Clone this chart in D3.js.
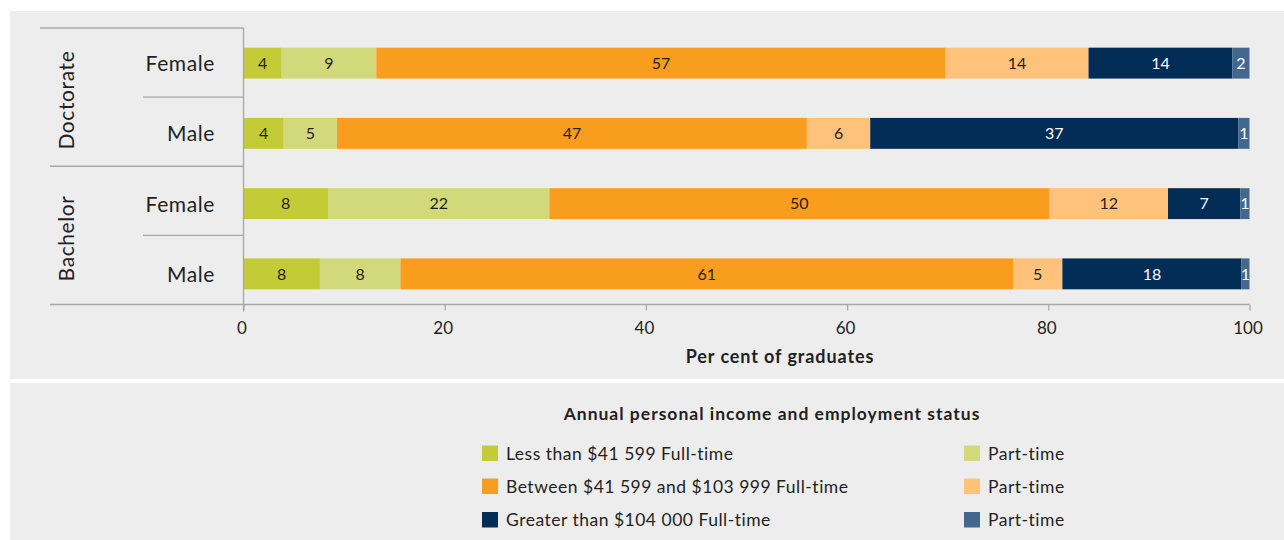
<!DOCTYPE html>
<html>
<head>
<meta charset="utf-8">
<script src="https://cdn.jsdelivr.net/npm/d3@7/dist/d3.min.js"></script>
<style>
  html, body { margin: 0; padding: 0; background: #ffffff; }
  svg { display: block; font-family: Lato, "Open Sans", sans-serif; }
</style>
</head>
<body>
<svg id="chart" width="1284" height="540"></svg>
<script>
// ---- Data ----
const groups = ["Doctorate", "Doctorate", "Bachelor", "Bachelor"];
const categories = ["Female", "Male", "Female", "Male"];
const rowKeys = ["Doctorate|Female", "Doctorate|Male", "Bachelor|Female", "Bachelor|Male"];

const lowFull  = [3.8, 4.0, 8.4, 7.6];
const lowPart  = [9.4, 5.3, 22.0, 8.0];
const midFull  = [56.6, 46.7, 49.7, 60.9];
const midPart  = [14.2, 6.3, 11.8, 4.9];
const highFull = [14.3, 36.6, 7.2, 17.8];
const highPart = [1.7, 1.1, 0.9, 0.8];

const xTicks = [0, 20, 40, 60, 80, 100];

const seriesNames = [
  "Less than $41 599 Full-time", "Part-time",
  "Between $41 599 and $103 999 Full-time", "Part-time",
  "Greater than $104 000 Full-time", "Part-time"
];
const seriesKeys = ["lowFull", "lowPart", "midFull", "midPart", "highFull", "highPart"];
const seriesColors = ["#c3cc36", "#d2d97a", "#f99d1f", "#fec27b", "#002c55", "#43678f"];
const seriesTextColors = ["#231f20", "#231f20", "#231f20", "#231f20", "#ffffff", "#ffffff"];

const seriesData = { lowFull, lowPart, midFull, midPart, highFull, highPart };
const table = rowKeys.map((k, i) => {
  const o = { key: k, group: groups[i], cat: categories[i] };
  seriesKeys.forEach(s => o[s] = seriesData[s][i]);
  return o;
});

// ---- Layout ----
const svg = d3.select("#chart");
const W = 1284, H = 540;
const textColor = "#231f20";
const lineColor = "#a8a8a8";

// panels
svg.append("rect").attr("x", 10).attr("y", 11).attr("width", W - 10).attr("height", 368).attr("fill", "#ededed");
svg.append("rect").attr("x", 10).attr("y", 383).attr("width", W - 10).attr("height", H - 383).attr("fill", "#ededed");

const x = d3.scaleLinear().domain([0, 100]).range([243.5, 1249.5]);
const yCell = d3.scaleBand().domain(rowKeys).range([28, 304.5]).padding(0);
const yBar = d3.scaleBand().domain(rowKeys).range([28, 309]).paddingInner(0.56).paddingOuter(0.28);

// stacked bars
const stack = d3.stack().keys(seriesKeys)(table);
const layers = svg.append("g").selectAll("g").data(stack).join("g")
  .attr("fill", (d, i) => seriesColors[i]);
layers.selectAll("rect").data(d => d).join("rect")
  .attr("x", d => x(d[0]))
  .attr("y", d => yBar(d.data.key))
  .attr("width", d => x(d[1]) - x(d[0]))
  .attr("height", yBar.bandwidth());

// bar labels
const labelLayers = svg.append("g").selectAll("g").data(stack).join("g")
  .attr("fill", (d, i) => seriesTextColors[i]);
labelLayers.selectAll("text").data(d => d).join("text")
  .attr("x", d => (x(d[0]) + x(d[1])) / 2)
  .attr("y", d => yBar(d.data.key) + yBar.bandwidth() / 2)
  .attr("dy", "0.36em")
  .attr("text-anchor", "middle")
  .attr("font-size", 16)
  .text(d => Math.round(d[1] - d[0]));

// separators & axis lines
const g = svg.append("g").attr("stroke", lineColor).attr("stroke-width", 1.3).attr("fill", "none");
g.append("line").attr("x1", 40).attr("x2", x(0)).attr("y1", yCell.range()[0]).attr("y2", yCell.range()[0]);
rowKeys.forEach((k, i) => {
  if (i === 0) return;
  const yy = yCell(k);
  const x1 = groups[i] !== groups[i - 1] ? 50 : 143;
  g.append("line").attr("x1", x1).attr("x2", x(0)).attr("y1", yy).attr("y2", yy);
});

// x axis
const xAxis = d3.axisBottom(x).tickValues(xTicks).tickSize(6).tickSizeOuter(0).tickPadding(8);
const axG = svg.append("g").attr("transform", `translate(0,${yCell.range()[1]})`).call(xAxis);
axG.select(".domain").attr("stroke", lineColor).attr("stroke-width", 1.3)
  .attr("d", `M50,0H${x(100)}`);
axG.selectAll(".tick line").attr("stroke", lineColor).attr("stroke-width", 1.3);
axG.selectAll(".tick text").attr("fill", textColor).attr("font-size", 17)
  .attr("font-family", "Lato, sans-serif").attr("dy", "0.9em").attr("dx", -2);
// vertical zero line
svg.append("line").attr("x1", x(0)).attr("x2", x(0))
  .attr("y1", yCell.range()[0]).attr("y2", yCell.range()[1] + 7)
  .attr("stroke", lineColor).attr("stroke-width", 1.3);

// axis title
svg.append("text").attr("x", 780).attr("y", 363).attr("text-anchor", "middle")
  .attr("font-size", 18).attr("font-weight", "bold").attr("fill", textColor)
  .attr("letter-spacing", 0.9)
  .text("Per cent of graduates");

// row labels
svg.append("g").selectAll("text").data(table).join("text")
  .attr("x", 215)
  .attr("y", d => yBar(d.key) + yBar.bandwidth() / 2 + 8)
  .attr("text-anchor", "end")
  .attr("font-size", 21)
  .attr("letter-spacing", 0.6)
  .attr("fill", textColor)
  .text(d => d.cat);

// group labels
const groupNames = Array.from(new Set(groups));
groupNames.forEach(gn => {
  const rows = rowKeys.filter((k, i) => groups[i] === gn);
  const y0 = yCell(rows[0]);
  const y1 = yCell(rows[rows.length - 1]) + yCell.bandwidth();
  svg.append("text")
    .attr("transform", `translate(74,${(y0 + y1) / 2 + 3}) rotate(-90)`)
    .attr("text-anchor", "middle")
    .attr("font-size", 21)
    .attr("letter-spacing", 0.6)
    .attr("fill", textColor)
    .text(gn);
});

// ---- Legend ----
svg.append("text").attr("x", 772).attr("y", 420).attr("text-anchor", "middle")
  .attr("font-size", 17.5).attr("font-weight", "bold").attr("fill", textColor)
  .attr("letter-spacing", 1.0)
  .text("Annual personal income and employment status");

const legendCols = [482, 964];
const legendRows = [445.5, 478.5, 512];
seriesNames.forEach((name, i) => {
  const col = i % 2, row = Math.floor(i / 2);
  const lg = svg.append("g").attr("transform", `translate(${legendCols[col]},${legendRows[row]})`);
  lg.append("rect").attr("width", 16).attr("height", 15.5).attr("fill", seriesColors[i]);
  lg.append("text").attr("x", 24).attr("y", 14).attr("font-size", 17.5)
    .attr("letter-spacing", 0.5).attr("fill", textColor).text(name);
});
</script>
</body>
</html>
